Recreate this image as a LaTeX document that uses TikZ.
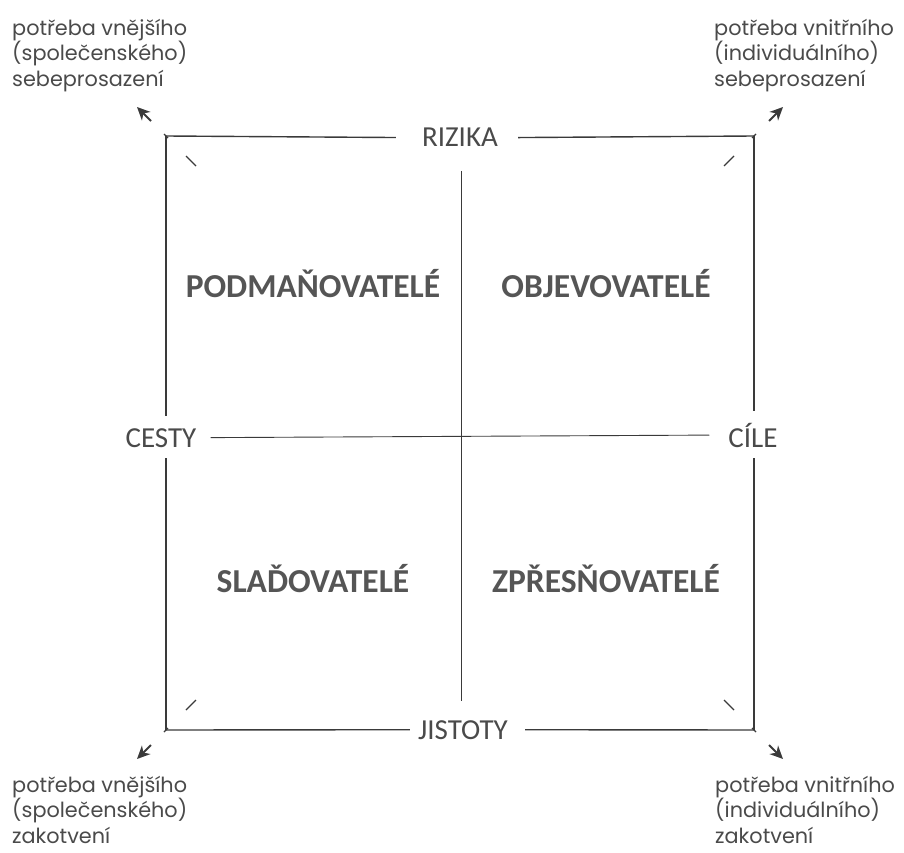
\documentclass[tikz,border=0pt]{standalone}
\usepackage{fontspec}
\setmainfont{Carlito}
\newfontfamily\cornerfont{Poppins}
\usetikzlibrary{arrows.meta,calc}
\definecolor{ink}{HTML}{3A3A3A}
\definecolor{txt}{HTML}{4A4A4A}
\definecolor{boldtxt}{HTML}{555555}
\begin{document}
\begin{tikzpicture}[x=1pt,y=-1pt,
  frame/.style={draw=ink, line width=1.4pt},
  thin/.style={draw=ink, line width=0.9pt},
  tick/.style={draw=ink, line width=1.3pt},
  outarrow/.style={draw=ink, line width=1.8pt, -{Stealth[length=13pt,width=12pt,inset=4pt]}},
  axislab/.style={font=\fontsize{29}{30}\selectfont, text=txt, inner sep=0pt, anchor=base},
  typelab/.style={font=\bfseries\fontsize{33.5}{35}\selectfont, text=boldtxt, inner sep=0pt, anchor=base},
  cornerlab/.style={font=\cornerfont\fontsize{20.8}{25.5}\selectfont, text=txt, inner sep=0pt, align=left, anchor=north west}
]
\useasboundingbox (0,0) rectangle (904,853);

% corners of the square
\coordinate (tl) at (166,136);
\coordinate (tr) at (754,136);
\coordinate (bl) at (166,730);
\coordinate (br) at (754,730);

% axis labels
\node[axislab] (rizika)  at (460,147) {RIZIKA};
\node[axislab] (jistoty) at (463,739) {JISTOTY};
\node[axislab] (cesty)   at (161,447) {CESTY};
\node[axislab] (cile)    at (753,447) {CÍLE};

% square edges interrupted by labels
\draw[frame, shorten >=26pt] (tl) -- (rizika.west);
\draw[frame, shorten <=20pt] (rizika.east) -- (tr);
\draw[frame, shorten >=8pt] (bl) -- (jistoty.west);
\draw[frame, shorten <=17pt] (jistoty.east) -- (br);
\draw[frame, shorten >=12pt] (tl) -- (tl |- cesty.north);
\draw[frame, shorten >=11pt] (bl) -- (bl |- cesty.south);
\draw[frame, shorten >=12pt] (tr) -- (tr |- cile.north);
\draw[frame, shorten >=11pt] (br) -- (br |- cile.south);

% inner cross
\coordinate (vtop) at (461,171);
\coordinate (vbot) at (461,701);
\draw[thin] (vtop) -- (vbot);
\draw[thin, shorten <=14pt, shorten >=19pt] (cesty.east) -- (cile.west);

% quadrant labels
\node[typelab] (podm) at (313,297) {PODMAŇOVATELÉ};
\node[typelab] (obj)  at (606,297) {OBJEVOVATELÉ};
\node[typelab] (slad) at (313,592) {SLAĎOVATELÉ};
\node[typelab] (zpr)  at (606,592) {ZPŘESŇOVATELÉ};

% diagonal marks and arrows at the corners
\foreach \c/\dx/\dy in {tl/-1/-1, tr/1/-1, bl/-1/1, br/1/1}{
  \draw[tick] ($(\c)+(-30*\dx,-30*\dy)$) -- ($(\c)+(-20*\dx,-20*\dy)$);
  \draw[tick] ($(\c)+(-2*\dx,-2*\dy)$) -- ($(\c)+(2*\dx,2*\dy)$);
  \draw[outarrow] ($(\c)+(15*\dx,15*\dy)$) -- ($(\c)+(29*\dx,29*\dy)$);
}

% corner texts
\node[cornerlab] (ntl) at (12,19) {potřeba vnějšího\\(společenského)\\sebeprosazení};
\node[cornerlab] (ntr) at (714,19) {potřeba vnitřního\\(individuálního)\\sebeprosazení};
\node[cornerlab] (nbl) at (12,776) {potřeba vnějšího\\(společenského)\\zakotvení};
\node[cornerlab] (nbr) at (715,776) {potřeba vnitřního\\(individuálního)\\zakotvení};
\end{tikzpicture}
\end{document}
